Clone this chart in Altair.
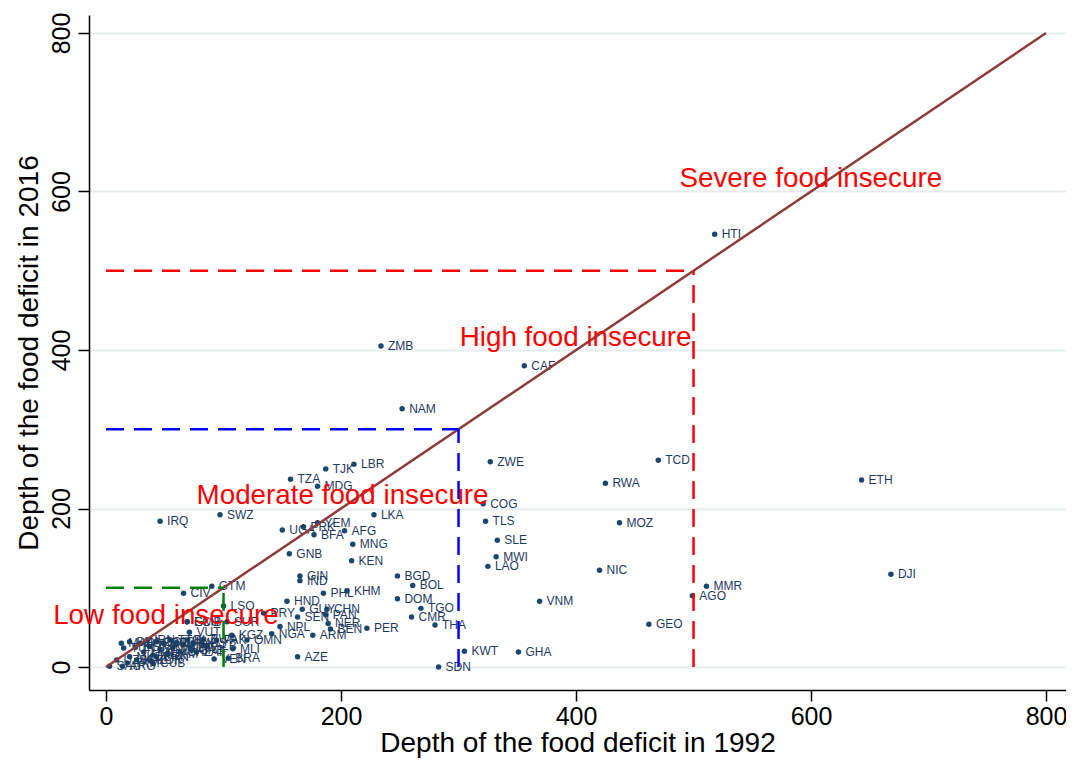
import altair as alt
import pandas as pd

# ---- data ----
countries = [
    "HTI", "ZMB", "CAF", "NAM", "ZWE", "TCD", "ETH", "RWA", "COG", "TLS",
    "MOZ", "SLE", "MWI", "LAO", "NIC", "DJI", "MMR", "AGO", "VNM", "GEO",
    "KWT", "GHA", "SDN", "THA", "CMR", "TGO", "DOM", "BOL", "BGD", "PER",
    "KEN", "MNG", "LKA", "AFG", "YEM", "PRK", "BFA", "UGA", "TZA", "TJK",
    "LBR", "MDG", "GNB", "GIN", "IND", "IRQ", "SWZ", "KHM", "PHL", "HND",
    "GUY", "CHN", "SEN", "PAN", "NER", "BEN", "NPL", "NGA", "ARM", "AZE",
    "PRY", "CIV", "GTM", "LSO", "SUR", "ECU", "KGZ", "OMN", "MLI", "BRA",
    "VEN", "GAB", "CUB", "ARG", "VUT",
    "MAR", "TUN", "DZA", "EGY", "JOR", "LBN", "IRN", "TUR", "MEX", "COL",
    "SLV", "CRI", "JAM", "TTO", "MYS", "IDN", "CHL", "URY", "BLZ", "FJI",
    "MUS", "ZAF", "BWA", "ALB", "MKD", "KAZ", "UZB", "TKM", "SAU", "KOR",
    "BRN", "PAK", "GMB",
]
deficit_1992 = [
    518, 234, 356, 252, 327, 470, 643, 425, 321, 323,
    437, 333, 332, 325, 420, 668, 511, 499, 369, 462,
    305, 351, 283, 280, 260, 268, 248, 261, 248, 222,
    209, 210, 228, 203, 180, 168, 177, 150, 157, 187,
    211, 180, 156, 165, 165, 46, 97, 205, 185, 154,
    167, 188, 163, 187, 189, 191, 148, 141, 176, 163,
    134, 66, 90, 100, 103, 69, 107, 120, 108, 104,
    92, 73, 40, 14, 71,
    13, 15, 20, 25, 29, 32, 35, 37, 40, 43,
    46, 49, 52, 55, 57, 60, 63, 66, 69, 72,
    74, 77, 83, 86, 20, 26, 9, 18, 3, 37,
    43, 94, 69,
]
deficit_2016 = [
    546, 405, 380, 326, 259, 261, 236, 232, 206, 184,
    182, 160, 139, 127, 122, 117, 102, 90, 83, 54,
    20, 19, 0, 53, 63, 74, 86, 103, 115, 49,
    134, 155, 192, 172, 182, 177, 167, 173, 237, 250,
    256, 228, 143, 115, 109, 184, 192, 96, 93, 83,
    73, 73, 63, 66, 55, 48, 51, 42, 40, 13,
    68, 93, 102, 77, 57, 57, 40, 34, 23, 11,
    10, 21, 5, 1, 44,
    30, 24, 32, 25, 30, 19, 34, 26, 15, 32,
    22, 30, 17, 34, 25, 31, 19, 28, 34, 24,
    30, 19, 35, 26, 13, 9, 9, 5, 1, 9,
    13, 34, 57,
]

# threshold boxes (category, threshold)
zone_names = ["Low", "Moderate", "High"]
zone_limits = [100, 300, 500]

# annotation texts and their anchor (data units)
note_texts = ["Severe food insecure", "High food insecure",
              "Moderate food insecure", "Low food insecure"]
note_x = [488, 301, 77, -45]
note_y = [616, 415, 216, 64]

# ---- tables (all layers use columns x / y) ----
df = pd.DataFrame({"iso": countries, "x": deficit_1992, "y": deficit_2016})

seg_rows = []
for name, lim in zip(zone_names, zone_limits):
    seg_rows.append({"zone": name, "seg": name + "h", "x": 0, "y": lim, "x2": lim, "y2": lim})
    seg_rows.append({"zone": name, "seg": name + "v", "x": lim, "y": 0, "x2": lim, "y2": lim})
segs = pd.DataFrame(seg_rows)

diag = pd.DataFrame({"x": [0], "y": [0], "x2": [800], "y2": [800]})
notes = pd.DataFrame({"t": note_texts, "x": note_x, "y": note_y})

FONT = "Liberation Sans"
xs = alt.Scale(domain=[-14.5, 817], nice=False, zero=False)
ys = alt.Scale(domain=[-29, 822.7], nice=False, zero=False)

x_axis = alt.Axis(
    values=[0, 200, 400, 600, 800], grid=False, title="Depth of the food deficit in 1992",
    labelFontSize=25, titleFontSize=28, labelFont=FONT, titleFont=FONT,
    labelColor="black", titleColor="black", titleFontWeight="normal",
    tickSize=11, tickColor="black", tickWidth=1.5, domainColor="black", domainWidth=1.5,
    labelPadding=3, titlePadding=0,
)
y_axis = alt.Axis(
    values=[0, 200, 400, 600, 800], grid=True, gridColor="#e6edf0", gridWidth=2,
    title="Depth of the food deficit in 2016",
    labelFontSize=25, titleFontSize=28, labelFont=FONT, titleFont=FONT,
    labelColor="black", titleColor="black", titleFontWeight="normal",
    labelAngle=270, labelAlign="center", labelBaseline="bottom",
    tickSize=11, tickColor="black", tickWidth=1.5, domainColor="black", domainWidth=1.5,
    labelPadding=4, titlePadding=6,
)

X = alt.X("x:Q", scale=xs, axis=x_axis)
Y = alt.Y("y:Q", scale=ys, axis=y_axis)

points = alt.Chart(df).mark_circle(size=30, color="#1a476f", opacity=1).encode(x=X, y=Y)

labels = alt.Chart(df).mark_text(
    align="left", baseline="middle", dx=7, fontSize=12, font=FONT, color="#1f3a5f"
).encode(x=X, y=Y, text="iso:N")

diag_line = alt.Chart(diag).mark_rule(color="#8e3b3b", strokeWidth=2.5).encode(
    x=X, y=Y, x2="x2:Q", y2="y2:Q",
)

dashed = alt.Chart(segs).mark_rule(strokeWidth=2.5, strokeDash=[18, 10]).encode(
    x=X, y=Y, x2="x2:Q", y2="y2:Q",
    color=alt.Color("zone:N", scale=alt.Scale(domain=zone_names,
                    range=["#008000", "#0000ff", "#ff0000"]), legend=None),
    detail="seg:N",
)

note_layer = alt.Chart(notes).mark_text(
    align="left", baseline="middle", fontSize=27.8, font=FONT, color="#ff0000"
).encode(x=X, y=Y, text="t:N")

chart = alt.layer(points, labels, diag_line, dashed, note_layer).properties(
    width=977, height=675,
    autosize=alt.AutoSizeParams(type="none"),
    padding={"left": 81, "top": 7, "right": 0, "bottom": 72},
    background="white",
).configure_view(stroke=None)

chart.save("out.html", embed_options={"renderer": "svg", "actions": False})
